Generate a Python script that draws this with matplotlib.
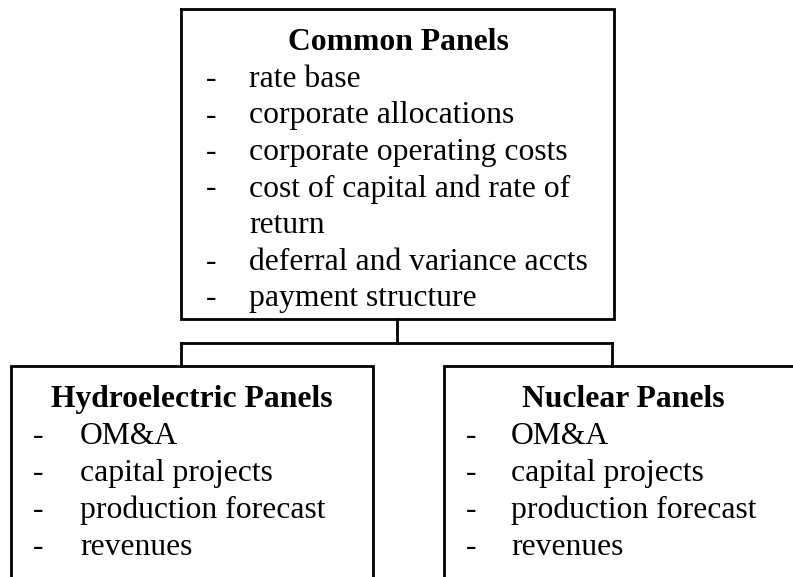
import matplotlib
matplotlib.use("Agg")
import matplotlib.pyplot as plt

# ---- content ----
top_title = "Common Panels"
top_items = ["rate base", "corporate allocations", "corporate operating costs",
             "cost of capital and rate of", "return", "deferral and variance accts",
             "payment structure"]
top_dash = [True, True, True, True, False, True, True]

left_title = "Hydroelectric Panels"
left_items = ["OM&A", "capital projects", "production forecast", "revenues"]

right_title = "Nuclear Panels"
right_items = ["OM&A", "capital projects", "production forecast", "revenues"]

W, H = 793, 577
fig = plt.figure(figsize=(W / 100, H / 100), dpi=100)
ax = fig.add_axes([0, 0, 1, 1])
ax.set_xlim(0, W)
ax.set_ylim(H, 0)
ax.axis("off")

FONT = ["Liberation Serif", "DejaVu Serif"]
FS = 22.8
LW = 2.0
K = "black"

def line(xs, ys):
    ax.plot(xs, ys, color=K, lw=LW, solid_capstyle="projecting", solid_joinstyle="miter")

# top box
line([181, 614, 614, 181, 181], [9, 9, 319, 319, 9])
# connectors
line([397, 397], [319, 343])
line([181, 612], [343, 343])
line([181, 181], [343, 366])
line([612, 612], [343, 366])
# left box (open at bottom)
line([11, 11, 373, 373], [H + 5, 366, 366, H + 5])
# right box (open at bottom/right)
line([444, 444, W + 5], [H + 5, 366, 366])

# top text
ax.text(398, 50, top_title, fontsize=FS, fontweight="bold", family=FONT,
        ha="center", va="baseline")
y0, dy = 87, 36.5
for i, (t, d) in enumerate(zip(top_items, top_dash)):
    y = y0 + i * dy
    if d:
        ax.text(206, y, "-", fontsize=FS, family=FONT, ha="left", va="baseline")
    ax.text(249, y, t, fontsize=FS, family=FONT, ha="left", va="baseline")

# bottom text
def panel(cx, title, items, dash_x, text_x):
    ax.text(cx, 407, title, fontsize=FS, fontweight="bold", family=FONT,
            ha="center", va="baseline")
    for i, t in enumerate(items):
        y = 444 + i * 37
        ax.text(dash_x, y, "-", fontsize=FS, family=FONT, ha="left", va="baseline")
        ax.text(text_x, y, t, fontsize=FS, family=FONT, ha="left", va="baseline")

panel(192, left_title, left_items, 33, 80)
panel(623, right_title, right_items, 466, 511)

fig.savefig("out.png", dpi=100, facecolor="white")
